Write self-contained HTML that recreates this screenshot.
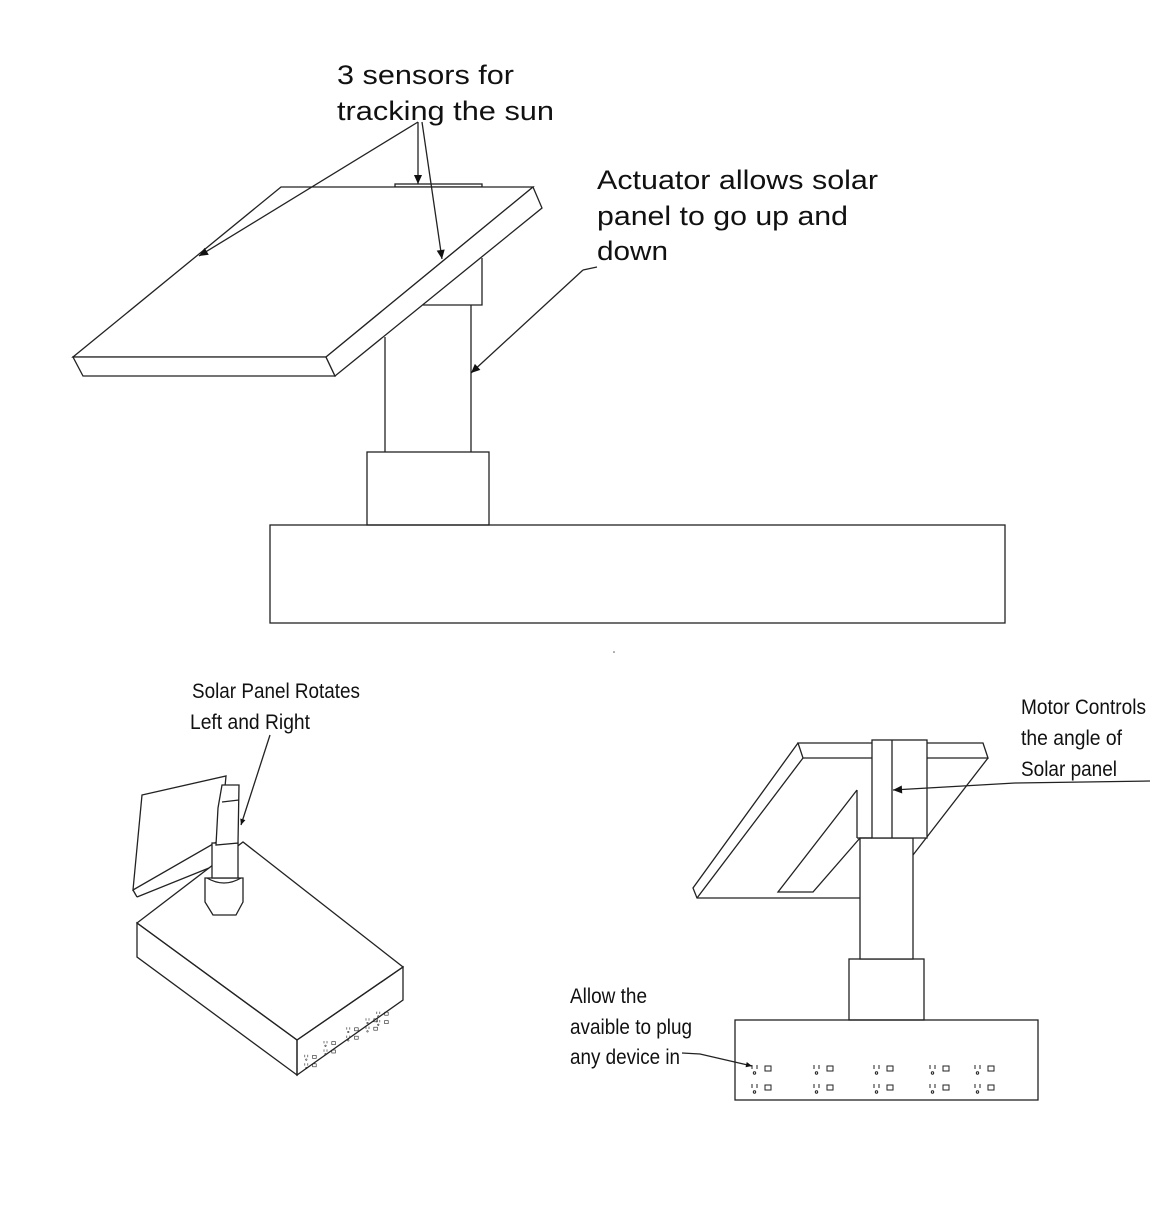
<!DOCTYPE html>
<html><head><style>html,body{margin:0;padding:0;background:#fff}svg{display:block}text{font-family:"Liberation Sans",sans-serif;fill:#111}</style></head>
<body>
<svg width="1170" height="1230" viewBox="0 0 1170 1230" xmlns="http://www.w3.org/2000/svg">
<defs>
<marker id="ah" viewBox="0 0 10 10" refX="10" refY="5" markerWidth="20" markerHeight="9" markerUnits="userSpaceOnUse" orient="auto"><path d="M0,0.5 L10,5 L0,9.5 z" fill="#111"/></marker>
<marker id="ahs" viewBox="0 0 10 10" refX="10" refY="5" markerWidth="13" markerHeight="6" markerUnits="userSpaceOnUse" orient="auto"><path d="M0,0.5 L10,5 L0,9.5 z" fill="#111"/></marker>
<g id="o" stroke="#222" stroke-width="1" fill="none"><line x1="0" y1="0" x2="0" y2="4"/><line x1="5" y1="0" x2="5" y2="4"/><circle cx="2.5" cy="8" r="1.2"/><rect x="13" y="1" width="6" height="5"/></g>
</defs>
<g fill="none" stroke="#222" stroke-width="1.3">
<!-- top drawing -->
<rect x="270" y="525" width="735" height="98"/>
<rect x="367" y="452" width="122" height="73"/>
<polyline points="385,337 385,452"/>
<polyline points="471,305 471,452"/>
<polyline points="482,258 482,305 423,305"/>
<rect x="395" y="184" width="87" height="3"/>
<polygon points="281,187 533,187 326,357 73,357" fill="#fff"/>
<polygon points="73,357 326,357 335,376 83,376" fill="#fff"/>
<polygon points="533,187 542,208 335,376 326,357" fill="#fff"/>
<line x1="418" y1="122" x2="199" y2="256" marker-end="url(#ah)"/>
<line x1="418" y1="122" x2="418" y2="184" marker-end="url(#ah)"/>
<line x1="422" y1="122" x2="442" y2="259" marker-end="url(#ah)"/>
<line x1="583" y1="270" x2="471" y2="373" marker-end="url(#ah)"/>
<line x1="583" y1="270" x2="597" y2="267"/>
<!-- bottom-left -->
<polygon points="137,923 243,842 403,967 297,1040" fill="#fff"/>
<polygon points="137,923 297,1040 297,1075 137,957"/>
<polygon points="297,1040 403,967 403,1000 297,1075"/>
<polygon points="142,795 226,776 220,840 133,890" fill="#fff"/>
<line x1="133" y1="890" x2="137" y2="897"/>
<line x1="137" y1="897" x2="209" y2="868"/>
<path d="M205,878 L243,878 L243,902 L236,915 L213,915 L205,902 Z" fill="#fff"/>
<path d="M207,878 Q224,888 241,878"/>
<rect x="212" y="843" width="26" height="35" fill="#fff"/>
<polygon points="222,785 239,785 238,843 216,845 218,808" fill="#fff"/>
<line x1="222" y1="802" x2="239" y2="800"/>
<line x1="270" y1="735" x2="241" y2="825" marker-end="url(#ahs)"/>
<!-- bottom-right -->
<rect x="735" y="1020" width="303" height="80"/>
<rect x="849" y="959" width="75" height="61"/>
<rect x="860" y="838" width="53" height="121" fill="#fff"/>
<polygon points="798,743 983,743 988,758 803,758" fill="#fff"/>
<polyline points="798,743 693,888 697,898 860,898"/>
<polyline points="803,758 697,898"/>
<polyline points="988,758 913,855"/>
<polyline points="857,790 778,892 813,892 860,838"/>
<polyline points="857,790 857,838"/>
<rect x="872" y="740" width="55" height="98" fill="#fff"/>
<line x1="892" y1="740" x2="892" y2="838"/>
<line x1="857" y1="838" x2="872" y2="838"/>
<polyline points="1150,781 1015,783 893,790" marker-end="url(#ah)" fill="none"/>
<polyline points="682,1053 700,1054 752,1066" marker-end="url(#ahs)"/>
</g>
<use href="#o" x="752" y="1065"/><use href="#o" x="752" y="1084"/>
<use href="#o" x="814" y="1065"/><use href="#o" x="814" y="1084"/>
<use href="#o" x="874" y="1065"/><use href="#o" x="874" y="1084"/>
<use href="#o" x="930" y="1065"/><use href="#o" x="930" y="1084"/>
<use href="#o" x="975" y="1065"/><use href="#o" x="975" y="1084"/>
<g transform="scale(0.6)">
<use href="#o" x="508" y="1758"/><use href="#o" x="508" y="1772"/>
<use href="#o" x="540" y="1735"/><use href="#o" x="540" y="1749"/>
<use href="#o" x="578" y="1712"/><use href="#o" x="578" y="1726"/>
<use href="#o" x="610" y="1697"/><use href="#o" x="610" y="1711"/>
<use href="#o" x="628" y="1686"/><use href="#o" x="628" y="1700"/>
</g>
<circle cx="614" cy="652" r="0.8" fill="#555"/>
<text x="337" y="84" font-size="27" textLength="177" lengthAdjust="spacingAndGlyphs">3 sensors for</text>
<text x="337" y="120" font-size="27" textLength="217" lengthAdjust="spacingAndGlyphs">tracking the sun</text>
<text x="597" y="189" font-size="27" textLength="281" lengthAdjust="spacingAndGlyphs">Actuator allows solar</text>
<text x="597" y="225" font-size="27" textLength="251" lengthAdjust="spacingAndGlyphs">panel to go up and</text>
<text x="597" y="260" font-size="27" textLength="71" lengthAdjust="spacingAndGlyphs">down</text>
<text x="192" y="698" font-size="21" textLength="168" lengthAdjust="spacingAndGlyphs">Solar Panel Rotates</text>
<text x="190" y="729" font-size="21" textLength="120" lengthAdjust="spacingAndGlyphs">Left and Right</text>
<text x="1021" y="714" font-size="21" textLength="125" lengthAdjust="spacingAndGlyphs">Motor Controls</text>
<text x="1021" y="745" font-size="21" textLength="101" lengthAdjust="spacingAndGlyphs">the angle of</text>
<text x="1021" y="776" font-size="21" textLength="96" lengthAdjust="spacingAndGlyphs">Solar panel</text>
<text x="570" y="1003" font-size="21" textLength="77" lengthAdjust="spacingAndGlyphs">Allow the</text>
<text x="570" y="1034" font-size="21" textLength="122" lengthAdjust="spacingAndGlyphs">avaible to plug</text>
<text x="570" y="1064" font-size="21" textLength="110" lengthAdjust="spacingAndGlyphs">any device in</text>
</svg>
</body></html>
